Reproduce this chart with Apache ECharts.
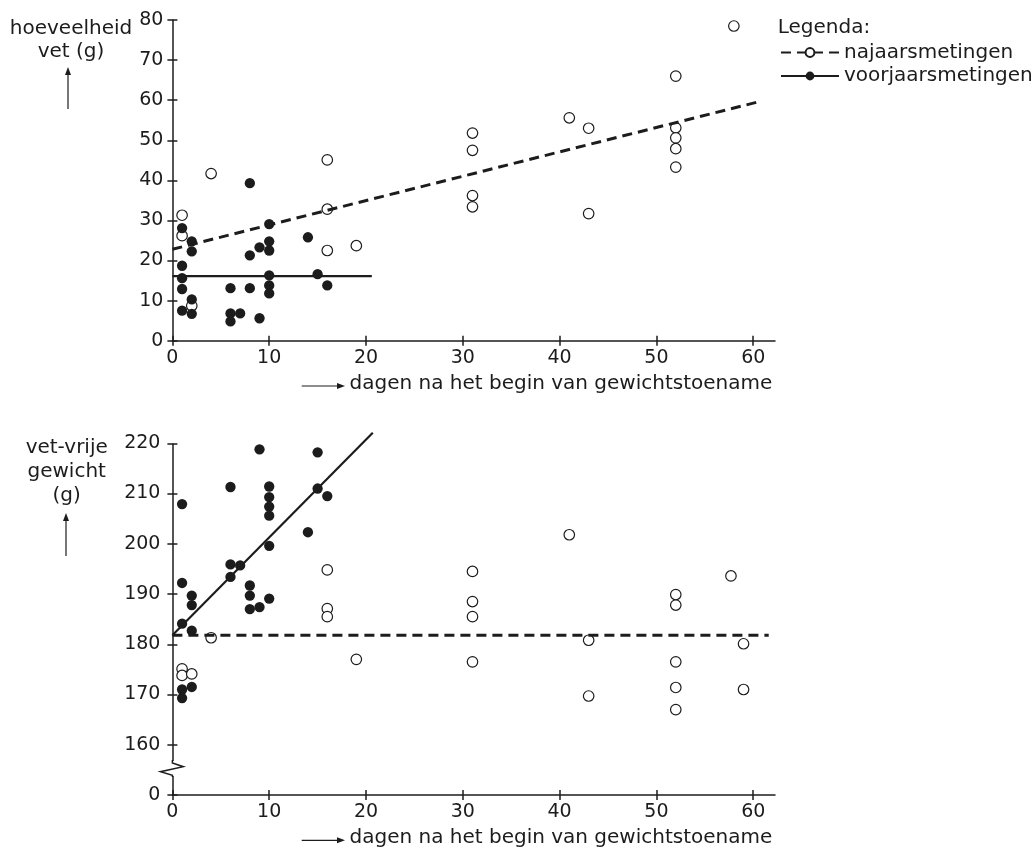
<!DOCTYPE html>
<html><head><meta charset="utf-8">
<script src="https://cdn.jsdelivr.net/npm/echarts@6/dist/echarts.min.js"></script>
<style>html,body{margin:0;padding:0;background:#fff}#c{width:1035px;height:850px}</style>
</head><body><div id="c"></div>
<script>
// ---------- data ----------
const dayTicks = [0, 10, 20, 30, 40, 50, 60];
const fatTicks = [0, 10, 20, 30, 40, 50, 60, 70, 80];
const leanTicks = [0, 160, 170, 180, 190, 200, 210, 220];

// top chart: hoeveelheid vet (g)
const autumnFatDays = [1, 1, 2, 4, 16, 16, 16, 19, 31, 31, 31, 31, 41, 43, 43, 52, 52, 52, 52, 52, 58];
const autumnFat     = [31.3, 26.2, 8.7, 41.7, 45.1, 32.8, 22.5, 23.7, 51.8, 47.5, 36.2, 33.4, 55.6, 53.0, 31.7, 66.0, 53.1, 50.6, 47.9, 43.3, 78.5];
const springFatDays = [1, 1, 1, 1, 1, 2, 2, 2, 2, 6, 6, 6, 7, 8, 8, 8, 9, 9, 10, 10, 10, 10, 10, 10, 14, 15, 16];
const springFat     = [28.1, 18.7, 15.6, 12.9, 7.5, 24.8, 22.3, 10.3, 6.7, 13.1, 6.8, 4.8, 6.8, 39.3, 21.3, 13.1, 23.3, 5.6, 29.1, 24.8, 22.5, 16.3, 13.8, 11.8, 25.8, 16.6, 13.8];

// bottom chart: vet-vrije gewicht (g)
const autumnLeanDays = [1, 1, 2, 4, 16, 16, 16, 19, 31, 31, 31, 31, 41, 43, 43, 52, 52, 52, 52, 52, 57.7, 59, 59];
const autumnLean     = [175.1, 173.8, 174.1, 181.3, 194.8, 187.1, 185.5, 177.0, 194.5, 188.5, 185.5, 176.5, 201.8, 180.8, 169.7, 189.9, 187.8, 176.5, 171.4, 167.0, 193.6, 180.1, 171.0];
const springLeanDays = [1, 1, 1, 1, 1, 2, 2, 2, 2, 6, 6, 6, 7, 8, 8, 8, 9, 9, 10, 10, 10, 10, 10, 10, 14, 15, 15, 16];
const springLean     = [207.9, 192.2, 184.1, 171.0, 169.3, 189.7, 187.8, 182.7, 171.5, 211.3, 195.9, 193.4, 195.7, 191.7, 189.7, 187.0, 218.8, 187.4, 211.4, 209.3, 207.4, 205.6, 199.6, 189.1, 202.3, 218.2, 211.0, 209.5];

// fitted lines (end points)
const autumnFatFitDays  = [0, 60.4];
const autumnFatFit      = [22.8, 59.5];
const springFatFitDays  = [0, 20.6];
const springFatFit      = [16.1, 16.1];
const autumnLeanFitDays = [0, 61.6];
const autumnLeanFit     = [181.8, 181.8];
const springLeanFitDays = [0, 20.7];
const springLeanFit     = [181.8, 222.1];

const names = { autumn: 'najaarsmetingen', spring: 'voorjaarsmetingen' };

// ---------- build ----------
const zip = (a, b) => a.map((v, i) => [v, b[i]]);
const INK = '#1c1c1c';
const FONT = 'DejaVu Sans';

function xAxes(gridIndex) {
  const base = {
    type: 'value', gridIndex, min: 0, max: 62.25, interval: 10, position: 'bottom',
    splitLine: { show: false }
  };
  return [
    Object.assign({}, base, {
      axisLine: { show: true, lineStyle: { color: INK, width: 1.5 } },
      axisTick: { show: true, length: 5, inside: false, customValues: dayTicks, lineStyle: { color: INK, width: 1.5 } },
      axisLabel: { show: true, customValues: dayTicks, fontSize: 19, fontFamily: FONT, color: INK, margin: 8 }
    }),
    Object.assign({}, base, {
      axisLine: { show: false },
      axisTick: { show: true, length: 5, inside: true, customValues: dayTicks, lineStyle: { color: INK, width: 1.5 } },
      axisLabel: { show: false }
    })
  ];
}
function yAxes(gridIndex, extra, ticks, margin) {
  const base = Object.assign({ type: 'value', gridIndex, position: 'left', splitLine: { show: false } }, extra);
  return [
    Object.assign({}, base, {
      axisLine: { show: true, onZero: false, lineStyle: { color: INK, width: 1.5 } },
      axisTick: { show: true, length: 5, inside: false, customValues: ticks, lineStyle: { color: INK, width: 1.5 } },
      axisLabel: { show: true, customValues: ticks, fontSize: 19, fontFamily: FONT, color: INK, margin: margin }
    }),
    Object.assign({}, base, {
      axisLine: { show: false, onZero: false },
      axisTick: { show: true, length: 5, inside: true, customValues: ticks, lineStyle: { color: INK, width: 1.5 } },
      axisLabel: { show: false }
    })
  ];
}

const fitLine = (name, xs, ys, xi, yi, dashed, width) => ({
  type: 'line', name, xAxisIndex: xi, yAxisIndex: yi, data: zip(xs, ys),
  symbol: dashed ? 'emptyCircle' : 'circle', showSymbol: false, clip: false, silent: true,
  itemStyle: { color: INK },
  lineStyle: { color: INK, width, type: dashed ? [10, 6] : 'solid' }, z: 3
});
const dots = (name, xs, ys, xi, yi, open) => ({
  type: 'scatter', name, xAxisIndex: xi, yAxisIndex: yi, data: zip(xs, ys),
  symbol: 'circle', symbolSize: open ? 10.5 : 10.3,
  itemStyle: open ? { color: '#fff', borderColor: INK, borderWidth: 1.2, opacity: 1 } : { color: INK, opacity: 1 },
  z: 2
});

function arrowV(x, yTip, yTail) {
  return [
    { type: 'line', shape: { x1: x, y1: yTail, x2: x, y2: yTip + 6 }, style: { stroke: INK, lineWidth: 1.2 } },
    { type: 'polygon', shape: { points: [[x, yTip], [x - 3, yTip + 8], [x + 3, yTip + 8]] }, style: { fill: INK } }
  ];
}
function arrowH(xTail, xTip, y) {
  return [
    { type: 'line', shape: { x1: xTail, y1: y, x2: xTip - 6, y2: y }, style: { stroke: INK, lineWidth: 1.2 } },
    { type: 'polygon', shape: { points: [[xTip, y], [xTip - 8, y - 3], [xTip - 8, y + 3]] }, style: { fill: INK } }
  ];
}
const txt = (x, y, text, align, lh) => ({
  type: 'text', x, y, z: 10,
  style: { text, fill: INK, fontSize: 20, fontFamily: FONT, align, verticalAlign: 'middle', lineHeight: lh || 24 }
});

const xTitle = 'dagen na het begin van gewichtstoename';

const option = {
  animation: false,
  backgroundColor: '#fff',
  grid: [
    { left: 172.4, top: 20, width: 602.6, height: 320.7, outerBoundsMode: 'none', containLabel: false },
    { left: 172.4, top: 443.3, width: 602.6, height: 351.7, outerBoundsMode: 'none', containLabel: false }
  ],
  xAxis: [].concat(xAxes(0), xAxes(1)),
  yAxis: [].concat(
    yAxes(0, { min: 0, max: 80, interval: 10 }, fatTicks, 9),
    yAxes(1, { min: 0, max: 220, interval: 10, breaks: [{ start: 5, end: 155, gap: 0 }], breakArea: { show: false } }, leanTicks, 12)
  ),
  legend: {
    left: 780, top: 42.5, padding: 0, orient: 'vertical', itemWidth: 58, itemHeight: 11, itemGap: 3.5,
    selectedMode: false,
    textStyle: { fontSize: 20, fontFamily: FONT, color: INK },
    data: [names.autumn, names.spring]
  },
  series: [
    fitLine(names.autumn, autumnFatFitDays, autumnFatFit, 0, 0, true, 3),
    fitLine(names.spring, springFatFitDays, springFatFit, 0, 0, false, 2.2),
    fitLine(names.autumn, autumnLeanFitDays, autumnLeanFit, 2, 2, true, 3),
    fitLine(names.spring, springLeanFitDays, springLeanFit, 2, 2, false, 2.2),
    dots(names.autumn, autumnFatDays, autumnFat, 0, 0, true),
    dots(names.spring, springFatDays, springFat, 0, 0, false),
    dots(names.autumn, autumnLeanDays, autumnLean, 2, 2, true),
    dots(names.spring, springLeanDays, springLean, 2, 2, false)
  ],
  graphic: [].concat(
    [txt(71, 40, 'hoeveelheid\nvet (g)', 'center', 23.4)],
    arrowV(68, 67, 109),
    [txt(66.7, 471.3, 'vet-vrije\ngewicht\n(g)', 'center', 24)],
    arrowV(66, 513, 556),
    [txt(772.3, 383.3, xTitle, 'right')],
    arrowH(301.7, 345, 386),
    [txt(772.3, 837.6, xTitle, 'right')],
    arrowH(301.7, 345, 840.3),
    [txt(777.7, 27.5, 'Legenda:', 'left')],
    [
      { type: 'rect', z: 20, shape: { x: 168, y: 761, width: 8, height: 15 }, style: { fill: '#fff' } },
      { type: 'polyline', z: 21, shape: { points: [[172.4, 760], [172.4, 763], [183.3, 766.7], [160.5, 771.7], [172.4, 775.2], [172.4, 777]] }, style: { stroke: INK, lineWidth: 1.5, fill: null } }
    ]
  )
};

const chart = echarts.init(document.getElementById('c'), null, { renderer: 'canvas' });
chart.setOption(option);
</script>
</body></html>
